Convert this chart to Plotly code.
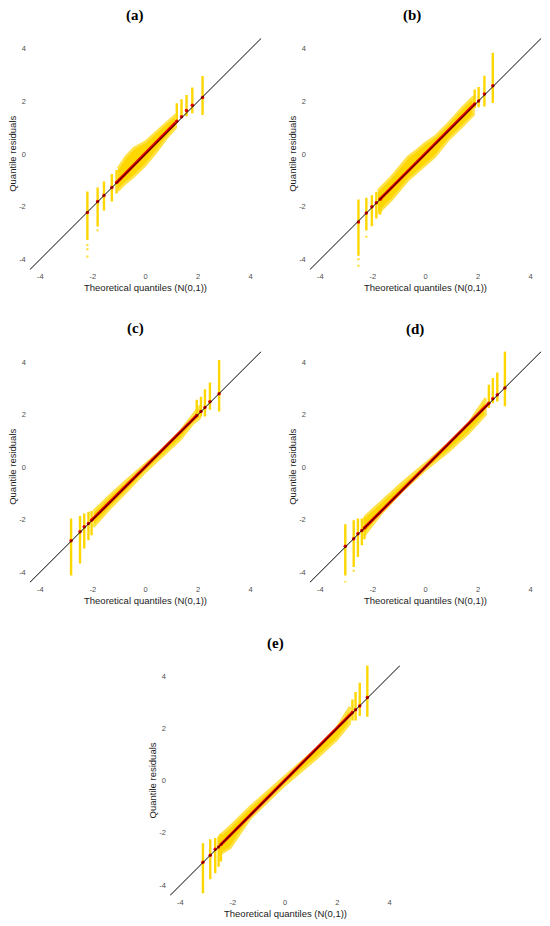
import plotly.graph_objects as go

# page is drawn with the browser's default 8px body margin
OFF = 8
W, H = 550 - OFF, 926 - OFF

# ---------------- data ----------------
# Panel (a)
A_STRIP_X = [-2.21, -1.82, -1.58, -1.28, -1.10, 1.19, 1.37, 1.56, 1.78, 2.17]
A_STRIP_LO = [-3.27, -2.76, -2.15, -1.81, -1.50, 1.17, 1.36, 1.44, 1.55, 1.48]
A_STRIP_HI = [-1.43, -1.27, -1.05, -0.76, -0.61, 1.93, 2.08, 2.24, 2.53, 2.97]
A_STRIP_RED = [-2.22, -1.81, -1.58, -1.27, -1.08, 1.25, 1.42, 1.65, 1.85, 2.15]
A_BAND_X = [-1.05, -0.75, -0.45, 0.0, 0.42, 0.80, 1.15]
A_BAND_HI = [-0.55, -0.10, 0.22, 0.47, 0.85, 1.17, 1.50]
A_BAND_LO = [-1.40, -1.10, -0.86, -0.42, 0.09, 0.60, 1.00]
A_RED_X = [-1.08, -0.5, 0.0, 0.5, 1.15]
A_RED_Y = [-1.07, -0.47, 0.03, 0.53, 1.20]
A_OUT_X = [-2.21, -2.21, -2.21, -1.82]
A_OUT_Y = [-3.46, -3.62, -3.90, -2.90]

# Panel (b)
B_STRIP_X = [-2.55, -2.25, -2.04, -1.87, -1.72, 1.87, 2.02, 2.24, 2.56]
B_STRIP_LO = [-3.87, -2.91, -2.75, -2.45, -2.30, 1.75, 1.78, 1.81, 1.94]
B_STRIP_HI = [-1.73, -1.66, -1.57, -1.44, -1.40, 2.45, 2.55, 2.98, 3.85]
B_STRIP_RED = [-2.59, -2.24, -2.01, -1.85, -1.72, 1.90, 2.02, 2.28, 2.60]
B_BAND_X = [-1.81, -1.30, -0.66, -0.40, -0.02, 0.36, 0.87, 1.39, 1.83]
B_BAND_HI = [-1.38, -0.87, -0.10, 0.09, 0.41, 0.66, 1.17, 1.75, 2.19]
B_BAND_LO = [-2.27, -1.76, -0.99, -0.75, -0.42, -0.10, 0.54, 1.04, 1.49]
B_RED_X = [-1.75, -1.0, 0.0, 1.0, 1.87]
B_RED_Y = [-1.74, -0.98, 0.02, 1.02, 1.90]
B_OUT_X = [-2.55, -2.55, -2.25]
B_OUT_Y = [-4.00, -4.25, -3.15]

# Panel (c)
C_STRIP_X = [-2.83, -2.49, -2.33, -2.17, -2.05, 1.95, 2.11, 2.26, 2.45, 2.80]
C_STRIP_LO = [-4.13, -3.68, -3.10, -2.79, -2.60, 1.85, 1.92, 1.92, 2.18, 2.11]
C_STRIP_HI = [-1.96, -1.87, -1.77, -1.70, -1.68, 2.56, 2.68, 2.96, 3.22, 4.08]
C_STRIP_RED = [-2.81, -2.47, -2.28, -2.15, -2.03, 1.96, 2.11, 2.27, 2.49, 2.79]
C_BAND_X = [-1.98, -1.35, -0.72, 0.0, 0.68, 1.31, 1.82, 2.07]
C_BAND_HI = [-1.68, -1.07, -0.50, 0.14, 0.71, 1.35, 1.99, 2.33]
C_BAND_LO = [-2.28, -1.58, -0.94, -0.18, 0.46, 1.03, 1.67, 1.86]
C_RED_X = [-2.05, -1.0, 0.0, 1.0, 1.95]
C_RED_Y = [-2.03, -0.99, 0.01, 1.01, 1.96]
C_OUT_X = []
C_OUT_Y = []

# Panel (d)
D_STRIP_X = [-3.05, -2.73, -2.57, -2.42, -2.32, 2.41, 2.56, 2.73, 3.02]
D_STRIP_LO = [-4.13, -3.81, -3.43, -2.98, -2.75, 2.25, 2.43, 2.50, 2.31]
D_STRIP_HI = [-2.18, -2.03, -1.96, -1.96, -1.90, 3.13, 3.39, 3.60, 4.41]
D_STRIP_RED = [-3.02, -2.73, -2.54, -2.42, -2.32, 2.43, 2.60, 2.75, 3.01]
D_BAND_X = [-2.32, -1.68, -0.91, 0.0, 0.87, 1.64, 2.28]
D_BAND_HI = [-1.90, -1.32, -0.62, 0.14, 0.90, 1.67, 2.62]
D_BAND_LO = [-2.60, -1.77, -0.94, -0.11, 0.59, 1.29, 1.99]
D_RED_X = [-2.32, -1.0, 0.0, 1.0, 2.41]
D_RED_Y = [-2.32, -1.00, 0.01, 1.01, 2.43]
D_OUT_X = [-3.05, -2.73]
D_OUT_Y = [-4.38, -3.95]

# Panel (e)
E_STRIP_X = [-3.14, -2.86, -2.67, -2.54, -2.45, 2.58, 2.70, 2.86, 3.15]
E_STRIP_LO = [-4.31, -3.78, -3.55, -3.30, -3.10, 2.30, 2.30, 2.47, 2.44]
E_STRIP_HI = [-2.40, -2.25, -2.20, -2.15, -2.05, 3.10, 3.39, 3.74, 4.41]
E_STRIP_RED = [-3.13, -2.86, -2.63, -2.54, -2.45, 2.60, 2.71, 2.85, 3.18]
E_BAND_X = [-2.54, -2.10, -1.33, 0.0, 1.21, 1.97, 2.48]
E_BAND_HI = [-2.15, -1.76, -1.00, 0.15, 1.23, 2.00, 2.82]
E_BAND_LO = [-2.85, -2.59, -1.45, -0.17, 0.85, 1.55, 2.18]
E_RED_X = [-2.45, -1.0, 0.0, 1.0, 2.58]
E_RED_Y = [-2.45, -1.00, 0.01, 1.01, 2.60]
E_OUT_X = []
E_OUT_Y = []

PANEL_LABELS = ["(a)", "(b)", "(c)", "(d)", "(e)"]
TICKS = [-4, -2, 0, 2, 4]
TICK_TEXT = ["-4", "-2", "0", "2", "4"]
X_TITLE = "Theoretical quantiles (N(0,1))"
Y_TITLE = "Quantile residuals"
REF_LINE = [-4.6, 4.6]

PANELS = [
    (A_STRIP_X, A_STRIP_LO, A_STRIP_HI, A_STRIP_RED, A_BAND_X, A_BAND_HI, A_BAND_LO, A_RED_X, A_RED_Y, A_OUT_X, A_OUT_Y),
    (B_STRIP_X, B_STRIP_LO, B_STRIP_HI, B_STRIP_RED, B_BAND_X, B_BAND_HI, B_BAND_LO, B_RED_X, B_RED_Y, B_OUT_X, B_OUT_Y),
    (C_STRIP_X, C_STRIP_LO, C_STRIP_HI, C_STRIP_RED, C_BAND_X, C_BAND_HI, C_BAND_LO, C_RED_X, C_RED_Y, C_OUT_X, C_OUT_Y),
    (D_STRIP_X, D_STRIP_LO, D_STRIP_HI, D_STRIP_RED, D_BAND_X, D_BAND_HI, D_BAND_LO, D_RED_X, D_RED_Y, D_OUT_X, D_OUT_Y),
    (E_STRIP_X, E_STRIP_LO, E_STRIP_HI, E_STRIP_RED, E_BAND_X, E_BAND_HI, E_BAND_LO, E_RED_X, E_RED_Y, E_OUT_X, E_OUT_Y),
]

# ---------------- layout geometry (window pixels) ----------------
BOXES = [  # left, right, top, bottom
    (29.8, 261.2, 38.3, 269.7),
    (309.8, 541.2, 38.3, 269.7),
    (29.8, 261.2, 351.5, 582.5),
    (309.8, 541.2, 351.5, 582.5),
    (170.0, 400.0, 665.5, 895.5),
]
LABEL_POS = [(135, 15), (412, 15), (135, 328), (415, 329), (275, 643)]


def fx(px):
    return (px - OFF) / W


def fy(py):
    return 1 - (py - OFF) / H


GOLD = "#FFD700"
GOLD_LIGHT = "#FFE24A"
RED = "#E50000"
SANS = "Liberation Sans, Arial, sans-serif"

fig = go.Figure()
annotations = []
layout_axes = {}

for i, (sx, slo, shi, sred, bx, bhi, blo, rx, ry, ox, oy) in enumerate(PANELS):
    n = "" if i == 0 else str(i + 1)
    xa, ya = "x" + n, "y" + n
    # dense band
    fig.add_trace(go.Scatter(
        x=list(bx) + list(bx[::-1]), y=list(bhi) + list(blo[::-1]),
        mode="lines", fill="toself", fillcolor=GOLD,
        line=dict(color=GOLD_LIGHT, width=2.5), xaxis=xa, yaxis=ya,
        showlegend=False, hoverinfo="skip"))
    # vertical strips
    vx, vy = [], []
    for x, lo, hi in zip(sx, slo, shi):
        vx += [x, x, None]
        vy += [lo, hi, None]
    fig.add_trace(go.Scatter(x=vx, y=vy, mode="lines",
                             line=dict(color=GOLD, width=2.4),
                             xaxis=xa, yaxis=ya, showlegend=False, hoverinfo="skip"))
    # scattered outlying points
    if ox:
        fig.add_trace(go.Scatter(x=ox, y=oy, mode="markers",
                                 marker=dict(color=GOLD_LIGHT, size=2.5),
                                 xaxis=xa, yaxis=ya, showlegend=False, hoverinfo="skip"))
    # red observed quantiles
    fig.add_trace(go.Scatter(x=rx, y=ry, mode="lines",
                             line=dict(color=RED, width=3),
                             xaxis=xa, yaxis=ya, showlegend=False, hoverinfo="skip"))
    fig.add_trace(go.Scatter(x=sx, y=sred, mode="markers",
                             marker=dict(color=RED, size=3.5),
                             xaxis=xa, yaxis=ya, showlegend=False, hoverinfo="skip"))
    # reference line
    fig.add_trace(go.Scatter(x=REF_LINE, y=REF_LINE, mode="lines",
                             line=dict(color="black", width=1),
                             xaxis=xa, yaxis=ya, showlegend=False, hoverinfo="skip"))

    l, r, t, b = BOXES[i]
    common = dict(range=[-4.4, 4.4], showgrid=False, zeroline=False, showline=False,
                  ticks="", tickvals=TICKS, ticktext=TICK_TEXT,
                  tickfont=dict(family=SANS, size=7.5, color="#4D4D4D"), fixedrange=True)
    layout_axes["xaxis" + n] = dict(domain=[fx(l), fx(r)], anchor=ya,
                                    ticklabelstandoff=1, **common)
    layout_axes["yaxis" + n] = dict(domain=[fy(b), fy(t)], anchor=xa,
                                    ticklabelstandoff=3, **common)

    # titles
    annotations.append(dict(text=X_TITLE, xref="paper", yref="paper",
                            x=fx((l + r) / 2), y=fy(b + 17.5),
                            showarrow=False, xanchor="center", yanchor="middle",
                            font=dict(family=SANS, size=9.5, color="#1A1A1A")))
    annotations.append(dict(text=Y_TITLE, xref="paper", yref="paper",
                            x=fx(l - 18), y=fy((t + b) / 2), textangle=-90,
                            showarrow=False, xanchor="center", yanchor="middle",
                            font=dict(family=SANS, size=9.5, color="#1A1A1A")))
    px, py = LABEL_POS[i]
    annotations.append(dict(text="<b>" + PANEL_LABELS[i] + "</b>", xref="paper", yref="paper",
                            x=fx(px), y=fy(py), showarrow=False,
                            xanchor="center", yanchor="middle",
                            font=dict(family="Liberation Serif, serif", size=15, color="black")))

fig.update_layout(
    width=W, height=H, autosize=False,
    margin=dict(l=0, r=0, t=0, b=0),
    paper_bgcolor="white", plot_bgcolor="white",
    annotations=annotations, showlegend=False,
    **layout_axes,
)

fig.write_html("out.html")
